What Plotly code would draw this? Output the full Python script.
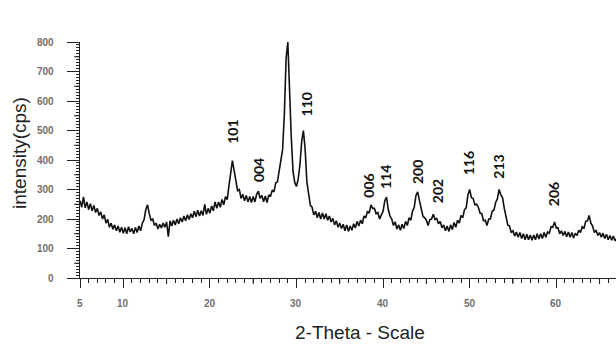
import plotly.graph_objects as go

theta_start = 5.0
theta_step = 0.2
intensity = [
    262, 240, 275, 238, 258, 232, 252, 228, 246, 222,
    236, 212, 224, 200, 214, 186, 199, 172, 186, 165,
    180, 160, 176, 155, 172, 152, 170, 150, 174, 156,
    168, 150, 171, 154, 176, 160, 186, 198, 232, 248,
    218, 196, 200, 178, 186, 166, 182, 170, 186, 172,
    190, 140, 194, 176, 196, 180, 200, 184, 204, 190,
    210, 194, 214, 198, 218, 204, 226, 208, 230, 210,
    228, 212, 250, 216, 236, 220, 244, 228, 258, 236,
    258, 240, 266, 248, 276, 266, 312, 350, 398, 364,
    326, 296, 300, 270, 284, 262, 280, 258, 276, 256,
    276, 258, 284, 294, 270, 280, 258, 278, 256, 282,
    276, 298, 292, 322, 326, 362, 388, 436, 556, 744,
    800, 626, 476, 362, 324, 310, 336, 384, 462, 500,
    436, 326, 284, 246, 240, 214, 226, 204, 222, 200,
    220, 200, 218, 196, 210, 190, 202, 180, 194, 172,
    186, 168, 182, 160, 180, 158, 176, 162, 184, 170,
    192, 176, 196, 184, 210, 204, 226, 220, 248, 236,
    236, 218, 222, 200, 214, 226, 262, 274, 232, 210,
    200, 178, 190, 166, 180, 162, 182, 168, 192, 178,
    204, 196, 226, 240, 280, 292, 262, 240, 210, 204,
    196, 178, 198, 200, 216, 198, 202, 184, 192, 170,
    180, 160, 176, 158, 180, 164, 188, 172, 196, 186,
    212, 204, 232, 238, 282, 300, 272, 270, 248, 250,
    240, 220, 218, 194, 196, 178, 200, 200, 226, 230,
    256, 268, 300, 282, 272, 236, 208, 180, 176, 154,
    160, 142, 156, 138, 154, 134, 150, 130, 148, 130,
    146, 128, 146, 130, 150, 132, 150, 134, 154, 138,
    156, 152, 174, 172, 190, 170, 170, 150, 160, 144,
    158, 140, 156, 138, 154, 136, 152, 144, 162, 154,
    174, 168, 192, 194, 212, 186, 176, 154, 162, 144,
    154, 138, 152, 134, 148, 130, 144, 128, 142, 126,
    134,
]
two_theta = [round(theta_start + theta_step * i, 1) for i in range(len(intensity))]

peak_labels = ["101", "004", "103", "110", "006", "114", "200", "202", "116", "213", "206"]
label_x = [22.6, 25.6, 28.9, 31.2, 38.3, 40.3, 44.0, 46.3, 49.9, 53.3, 59.7]
label_y = [497, 367, 876, 588, 314, 341, 358, 293, 388, 378, 283]

x_tick_vals = [5, 10, 20, 30, 40, 50, 60]
x_mid_ticks = [15, 25, 35, 45, 55, 65]
y_tick_vals = [0, 100, 200, 300, 400, 500, 600, 700, 800]
y_mid_ticks = [50, 150, 250, 350, 450, 550, 650, 750]

XR = [5, 66.9]
YR = [0, 800]

W, H = 616, 344
ML, MR, MT, MB = 80, 0, 42, 66
pw, ph = W - ML - MR, H - MT - MB

fig = go.Figure()
fig.add_trace(go.Scatter(x=two_theta, y=intensity, mode="lines",
                         line=dict(color="#111111", width=1.6), showlegend=False,
                         hoverinfo="skip"))

tick_font = dict(family="Liberation Sans, Arial, sans-serif", size=10,
                 color="#6f6f6f", weight="bold")

for lab, lx, ly in zip(peak_labels, label_x, label_y):
    fig.add_annotation(x=lx, y=ly, xref="x", yref="y", text=lab,
                       textangle=-90, showarrow=False, xanchor="center", yanchor="middle",
                       font=dict(family="Lato, Liberation Sans, sans-serif", size=14,
                                 color="#111111", weight="bold"))

# tick labels as annotations, placed like the reference
for v in x_tick_vals:
    fig.add_annotation(x=v, y=-(303 - (H - MB)) / ph, xref="x", yref="paper",
                       text=str(v), showarrow=False, xanchor="center", yanchor="middle",
                       font=tick_font)
for v in y_tick_vals:
    fig.add_annotation(x=(56 - ML) / pw, y=v, xref="paper", yref="y",
                       text=str(v), showarrow=False, xanchor="right", yanchor="middle",
                       font=tick_font)

title_font = dict(family="Liberation Sans, Arial, sans-serif", size=19, color="#222222")
fig.add_annotation(x=(19 - ML) / pw, y=(H - MB - 153) / ph, xref="paper", yref="paper",
                   text="intensity(cps)", showarrow=False, textangle=-90,
                   xanchor="center", yanchor="middle", font=title_font)
fig.add_annotation(x=(360 - ML) / pw, y=(H - MB - 332) / ph, xref="paper", yref="paper",
                   text="2-Theta - Scale", showarrow=False,
                   xanchor="center", yanchor="middle", font=title_font)

# medium-length ticks (every 5 on x, every 50 on y)
for v in x_mid_ticks:
    fig.add_shape(type="line", xref="x", yref="paper", x0=v, x1=v,
                  y0=0, y1=-6 / ph, line=dict(color="#222222", width=1))
for v in y_mid_ticks:
    fig.add_shape(type="line", xref="paper", yref="y", x0=0, x1=-6 / pw,
                  y0=v, y1=v, line=dict(color="#222222", width=1))

fig.update_layout(
    width=W, height=H,
    margin=dict(l=ML, r=MR, t=MT, b=MB, autoexpand=False),
    paper_bgcolor="white", plot_bgcolor="white",
    xaxis=dict(range=XR, tickmode="array", tickvals=x_tick_vals, automargin=False,
               ticks="outside", ticklen=9, tickwidth=1, tickcolor="#222222",
               showline=True, linecolor="#222222", linewidth=1,
               showgrid=False, zeroline=False, showticklabels=False,
               minor=dict(tickmode="linear", tick0=5, dtick=1, ticks="outside",
                          ticklen=4, tickcolor="#222222", showgrid=False)),
    yaxis=dict(range=YR, tickmode="array", tickvals=y_tick_vals, automargin=False,
               ticks="outside", ticklen=12, tickwidth=1, tickcolor="#222222",
               showline=True, linecolor="#222222", linewidth=1,
               showgrid=False, zeroline=False, showticklabels=False,
               minor=dict(tickmode="linear", tick0=0, dtick=10, ticks="outside",
                          ticklen=3, tickcolor="#222222", showgrid=False)),
)

fig.write_html("out.html")
